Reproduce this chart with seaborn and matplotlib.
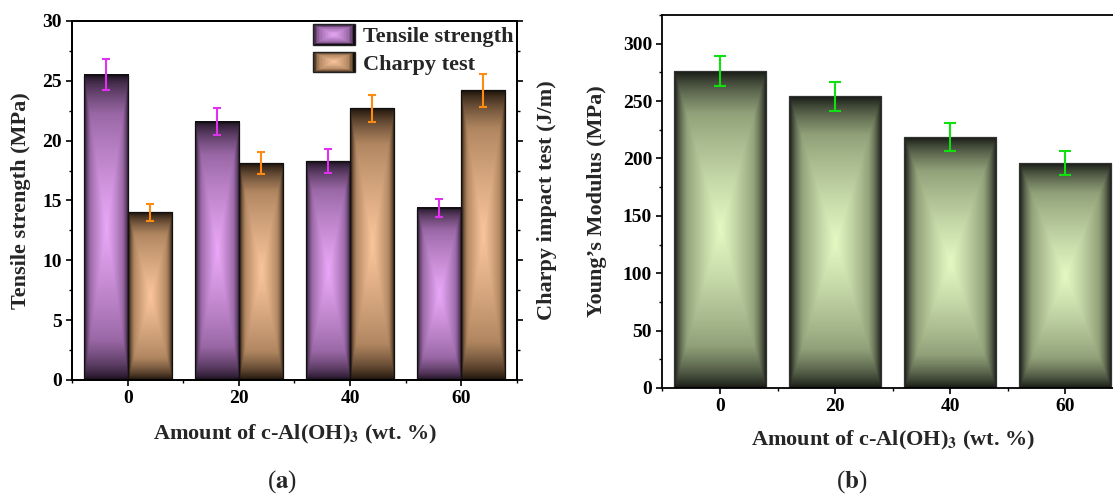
import numpy as np
import pandas as pd
import matplotlib
matplotlib.use("Agg")
import matplotlib.pyplot as plt
import seaborn as sns
from matplotlib.colors import LinearSegmentedColormap
from matplotlib.legend_handler import HandlerBase
from matplotlib.patches import Rectangle, Patch
from matplotlib.ticker import MultipleLocator

# ---------------- data ----------------
amounts = [0, 20, 40, 60]
tensile = [25.5, 21.6, 18.3, 14.4]
tensile_err = [1.3, 1.15, 0.97, 0.74]
charpy = [14.0, 18.1, 22.7, 24.2]
charpy_err = [0.72, 0.92, 1.15, 1.35]
young = [276, 254, 218.5, 196]
young_err = [13, 12.7, 12, 10.5]
series_names = ["Tensile strength", "Charpy test"]

# ---------------- style ----------------
sns.set_theme(style="ticks")
plt.rcParams['font.family'] = ['Liberation Serif', 'DejaVu Serif']
plt.rcParams['font.weight'] = 'bold'
plt.rcParams['axes.labelweight'] = 'bold'
plt.rcParams['mathtext.fontset'] = 'stix'
plt.rcParams['axes.linewidth'] = 1.3
plt.rcParams['xtick.major.width'] = 1.2
plt.rcParams['ytick.major.width'] = 1.2
plt.rcParams['xtick.minor.width'] = 1.0
plt.rcParams['ytick.minor.width'] = 1.0
plt.rcParams['xtick.major.size'] = 4
plt.rcParams['ytick.major.size'] = 4
plt.rcParams['xtick.minor.size'] = 2.5
plt.rcParams['ytick.minor.size'] = 2.5
plt.rcParams['xtick.color'] = 'black'
plt.rcParams['ytick.color'] = 'black'
plt.rcParams['axes.edgecolor'] = 'black'

def make_cmap(dark, middark, mid, light):
    return LinearSegmentedColormap.from_list(
        "g", [(0.0, dark), (0.12, middark), (0.42, mid), (1.0, light)])

cm_tensile = make_cmap('#120a14', '#3a2540', '#9a68a6', '#eaa8f8')
cm_charpy = make_cmap('#140d06', '#3d2b1c', '#b08660', '#fac59c')
cm_young = make_cmap('#121410', '#30362a', '#90a078', '#e4f9c4')

# rectangular (Chebyshev) gradient, 1 at centre, 0 at edges
u = np.linspace(-1, 1, 80)
v = np.linspace(-1, 1, 400)
U, V = np.meshgrid(u, v)
GRAD = (1 - np.maximum(np.abs(U), np.abs(V))) ** 0.65

def fill_gradient(ax, container, cmap):
    for p in container.patches:
        x0, y0, w, h = p.get_x(), p.get_y(), p.get_width(), p.get_height()
        ax.imshow(GRAD, extent=(x0, x0 + w, y0, y0 + h), cmap=cmap, vmin=0, vmax=1,
                  aspect='auto', origin='lower', interpolation='bilinear',
                  zorder=p.get_zorder() + 0.1)
        p.set_facecolor('none')
        p.set_zorder(p.get_zorder() + 0.2)

def bar_centers(container):
    return [p.get_x() + p.get_width() / 2 for p in container.patches]

class GradHandler(HandlerBase):
    def __init__(self, cmap, n=14):
        super().__init__()
        self.cmap = cmap
        self.n = n

    def create_artists(self, legend, orig_handle, xdescent, ydescent,
                       width, height, fontsize, trans):
        arts = []
        x0, y0 = -xdescent, -ydescent
        for i in range(self.n):
            f = i / self.n
            r = Rectangle((x0 + f * width / 2, y0 + f * height / 2),
                          width * (1 - f), height * (1 - f),
                          facecolor=self.cmap(f ** 0.65), edgecolor='none', transform=trans)
            arts.append(r)
        arts.append(Rectangle((x0, y0), width, height, fill=False,
                              edgecolor='#222222', lw=1.0, transform=trans))
        return arts

fig = plt.figure(figsize=(11.13, 4.94), dpi=100)

LABEL_FS = 16
TICK_FS = 14

# ---------------- panel (a) ----------------
axa = fig.add_axes([0.0651, 0.2308, 0.3990, 0.7267])
df_a = pd.DataFrame({
    'amount': amounts * 2,
    'value': tensile + charpy,
    'test': [series_names[0]] * len(amounts) + [series_names[1]] * len(amounts),
})
sns.barplot(data=df_a, x='amount', y='value', hue='test', hue_order=series_names,
            native_scale=True, width=0.8, gap=0, errorbar=None,
            palette=['#9a68a6', '#b08660'], edgecolor='#111111', linewidth=0.9,
            legend=False, ax=axa)
fill_gradient(axa, axa.containers[0], cm_tensile)
fill_gradient(axa, axa.containers[1], cm_charpy)
axa.errorbar(bar_centers(axa.containers[0]), tensile, yerr=tensile_err, fmt='none',
             ecolor='#e030f0', elinewidth=1.5, capsize=3.2, capthick=1.5, zorder=5)
axa.errorbar(bar_centers(axa.containers[1]), charpy, yerr=charpy_err, fmt='none',
             ecolor='#ff8a10', elinewidth=1.5, capsize=3.2, capthick=1.5, zorder=5)

axa.set_xlim(-10, 70)
axa.set_ylim(0, 30)
axa.set_xticks(amounts)
axa.set_xticklabels([str(a) for a in amounts])
axa.xaxis.set_minor_locator(MultipleLocator(10))
axa.yaxis.set_major_locator(MultipleLocator(5))
axa.yaxis.set_minor_locator(MultipleLocator(2.5))
axa.tick_params(axis='both', which='major', labelsize=TICK_FS)
axa.set_xlabel("Amount of c-Al(OH)$_{\\mathbf{3}}$ (wt. %)", fontsize=LABEL_FS, fontweight='bold')
axa.set_ylabel("Tensile strength (MPa)", fontsize=LABEL_FS, fontweight='bold')
axa.xaxis.set_label_coords(0.5, -0.12)
axa.yaxis.set_label_coords(-0.094, 0.5)

axr = axa.twinx()
axr.set_ylim(0, 30)
axr.yaxis.set_major_locator(MultipleLocator(5))
axr.yaxis.set_minor_locator(MultipleLocator(2.5))
axr.tick_params(axis='y', which='both', labelright=False)
axr.set_ylabel("Charpy impact test (J/m)", fontsize=LABEL_FS, fontweight='bold')
axr.yaxis.set_label_coords(1.046, 0.5)
for s in axr.spines.values():
    s.set_linewidth(1.3)

h1, h2 = Patch(), Patch()
axa.legend([h1, h2], series_names, loc='upper right', frameon=False,
           handlelength=1.9, handleheight=1.05, handletextpad=0.35,
           labelspacing=0.2, borderaxespad=0.05, borderpad=0.1,
           handler_map={h1: GradHandler(cm_tensile), h2: GradHandler(cm_charpy)},
           prop={'weight': 'bold', 'size': 16})

# ---------------- panel (b) ----------------
axb = fig.add_axes([0.5952, 0.2146, 0.4137, 0.7550])
df_b = pd.DataFrame({'amount': amounts, 'modulus': young})
sns.barplot(data=df_b, x='amount', y='modulus', native_scale=True, width=0.8,
            errorbar=None, color='#90a078', edgecolor='#333333', linewidth=0.9, ax=axb)
fill_gradient(axb, axb.containers[0], cm_young)
axb.errorbar(bar_centers(axb.containers[0]), young, yerr=young_err, fmt='none',
             ecolor='#10e010', elinewidth=1.5, capsize=4.2, capthick=1.5, zorder=5)
axb.set_xlim(-10, 70)
axb.set_ylim(0, 325)
axb.set_xticks(amounts)
axb.set_xticklabels([str(a) for a in amounts])
axb.xaxis.set_minor_locator(MultipleLocator(10))
axb.yaxis.set_major_locator(MultipleLocator(50))
axb.yaxis.set_minor_locator(MultipleLocator(25))
axb.tick_params(axis='both', which='major', labelsize=TICK_FS)
axb.set_xlabel("Amount of c-Al(OH)$_{\\mathbf{3}}$ (wt. %)", fontsize=LABEL_FS, fontweight='bold')
axb.set_ylabel("Young\u2019s Modulus (MPa)", fontsize=LABEL_FS, fontweight='bold')
axb.xaxis.set_label_coords(0.5, -0.11)
axb.yaxis.set_label_coords(-0.12, 0.5)

fig.text(0.2534, 0.026, "($\\mathbf{a}$)", ha='center', va='center', fontsize=18,
         fontweight='normal')
fig.text(0.7655, 0.026, "($\\mathbf{b}$)", ha='center', va='center', fontsize=18,
         fontweight='normal')

fig.savefig("out.png", dpi=100)
